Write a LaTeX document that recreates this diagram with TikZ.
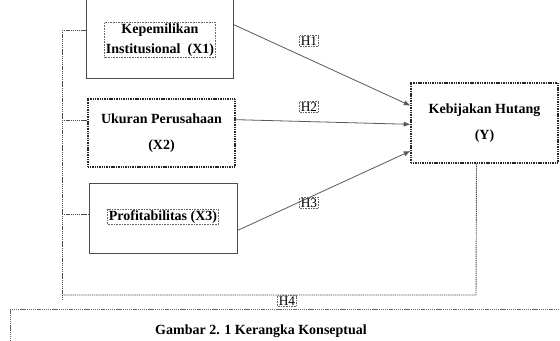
\documentclass[tikz,border=0pt]{standalone}
\usepackage{fontspec}
\setmainfont{Liberation Serif}
\usetikzlibrary{arrows.meta, positioning}

\begin{document}
\begin{tikzpicture}[
        x=0.75pt, y=-0.75pt,
        varbox/.style={draw=black!70, line width=0.7pt, rectangle, minimum width=110pt, align=center, font=\fontsize{10.5}{13}\selectfont\bfseries},
        dotbox/.style={varbox, draw=black!85, line width=1.1pt, dash pattern=on 0.8pt off 0.5pt},
        txtframe/.style={draw=black!60, dash pattern=on 0.6pt off 0.6pt, line width=0.5pt, inner sep=1pt, align=center, font=\fontsize{10.5}{15}\selectfont\bfseries},
        hlbl/.style={draw=black!60, dash pattern=on 0.6pt off 0.6pt, line width=0.5pt, inner sep=0.8pt, font=\fontsize{10}{12}\selectfont},
        arrow/.style={-{Latex[length=5pt, width=4pt]}, line width=0.6pt, draw=black!65},
        fb/.style={dash pattern=on 1pt off 0.6pt, line width=0.7pt, draw=black!70}
    ]
        \useasboundingbox (0,0) rectangle (560,341);

        % --- Variabel independen ---
        \node[varbox, minimum height=66pt] (x1box) at (160, 34) {};
        \node[txtframe] (x1) at (160, 40) {Kepemilikan\\Institusional\ \ (X1)};

        \node[dotbox, minimum height=51pt] (x2) at (161.5, 133) {Ukuran Perusahaan\\[6pt](X2)};

        \node[varbox, minimum height=52pt, minimum width=111pt] (x3box) at (163, 218.5) {};
        \node[txtframe] (x3) at (163, 217) {Profitabilitas (X3)};

        % --- Variabel dependen ---
        \node[dotbox, minimum height=60pt] (y) at (484.5, 123) {Kebijakan Hutang\\[6pt](Y)};

        % --- Hipotesis ---
        \draw[arrow] ([yshift=7pt]x1box.east) -- ([yshift=13pt]y.west);
        \draw[arrow] ([yshift=10pt]x2.east) -- ([yshift=-1pt]y.west);
        \draw[arrow] ([yshift=-9pt]x3box.east) -- ([yshift=-21pt]y.west);

        \node[hlbl] (h1) at (309, 41) {H1};
        \node[hlbl] (h2) at (309, 107) {H2};
        \node[hlbl] (h3) at (309, 203) {H3};

        % --- Simultan (H4) ---
        \coordinate (fbtop) at (62, 30);
        \coordinate (fbbot) at (62, 300);
        \coordinate (fbleft) at (62, 295);
        \coordinate (fbright) at (476, 295);
        \draw[fb] ([xshift=-6pt]y.south) -- (fbright) -- (fbleft);
        \draw[fb] (fbtop) -- (fbbot);
        \draw[fb] (fbtop) -- (x1box.west |- fbtop);
        \draw[fb] (62, 120) -- (x2.west |- 0,120);
        \draw[fb] (62, 214) -- (x3box.west |- 0,214);
        \node[hlbl] (h4) at (287, 301) {H4};

        % --- Keterangan ---
        \draw[fb, line width=0.5pt, draw=black!60] (10, 350) -- (10, 309) -- (570, 309);
        \node[font=\fontsize{10.5}{13}\selectfont\bfseries] (cap) at (261, 331) {Gambar 2. 1 Kerangka Konseptual};

    \end{tikzpicture}
\end{document}
